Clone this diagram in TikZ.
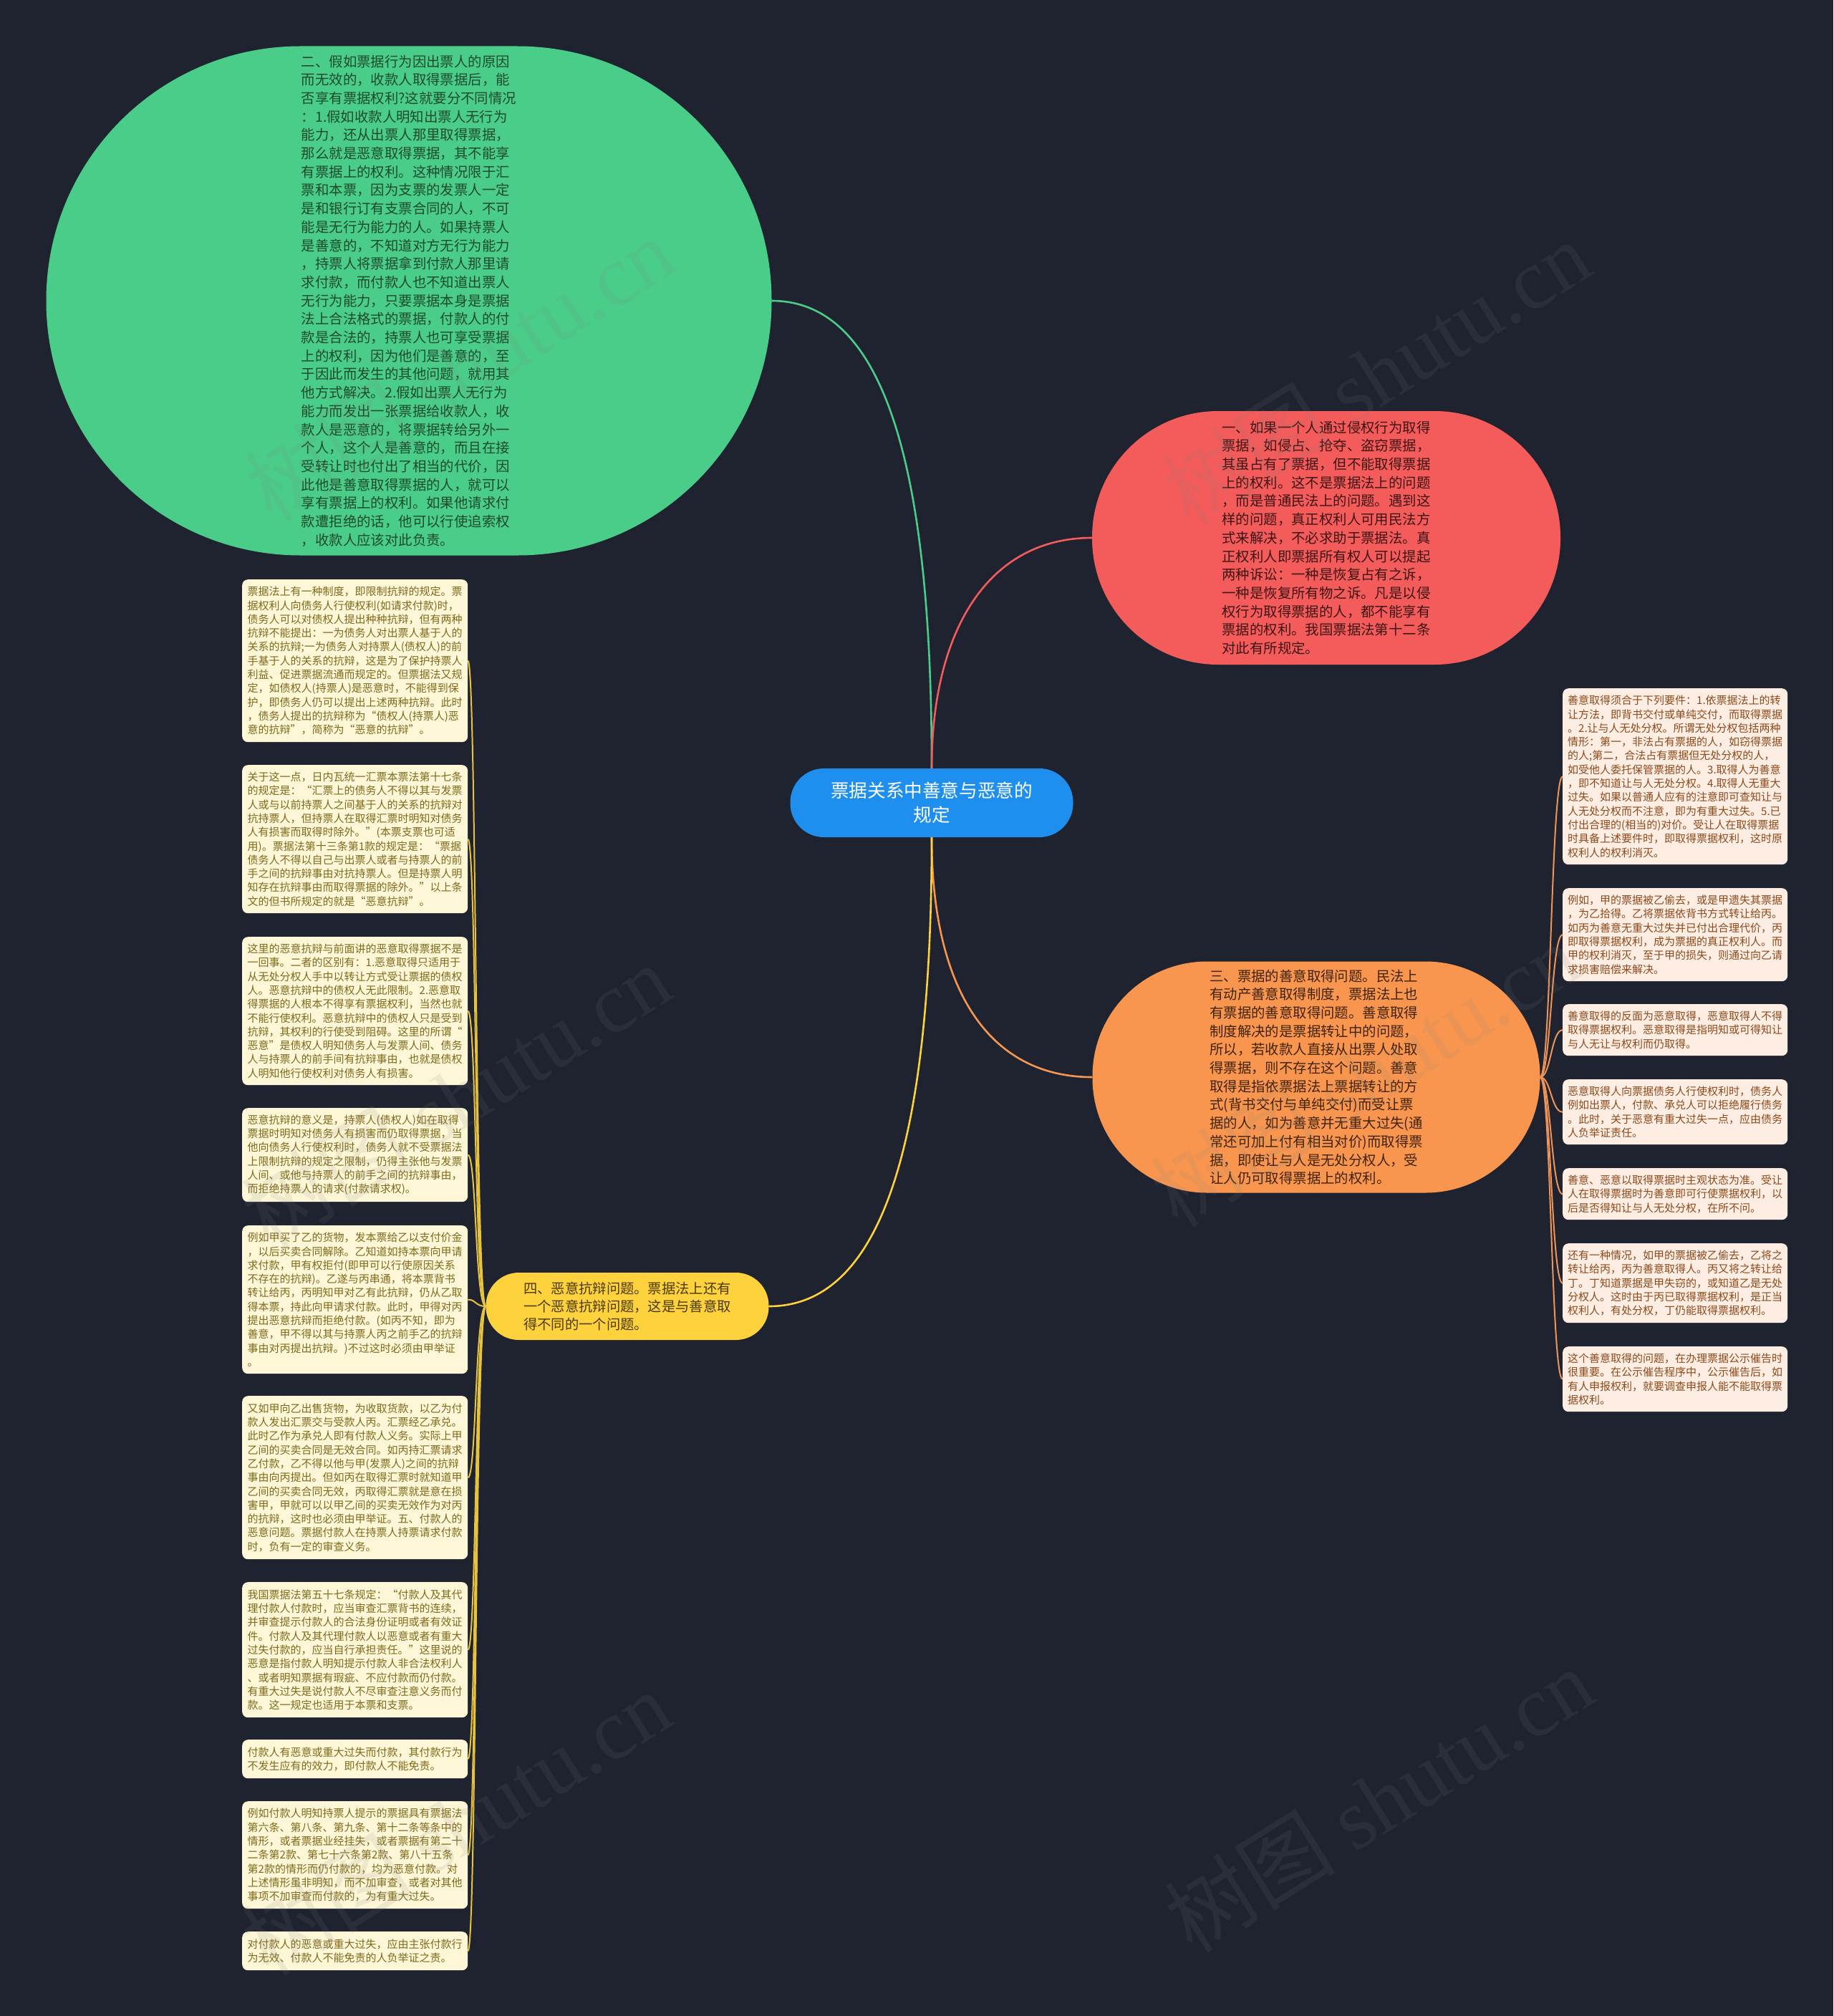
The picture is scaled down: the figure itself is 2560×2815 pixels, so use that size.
\documentclass[tikz,border=0pt]{standalone}
\usepackage{fontspec}
\setmainfont{Noto Sans CJK SC}
\newfontfamily\wmlatin{Liberation Serif}
\definecolor{bg}{HTML}{1F2330}
\definecolor{greenfill}{HTML}{4ACD89}
\definecolor{greentext}{HTML}{1D4A2C}
\definecolor{redfill}{HTML}{F45B5B}
\definecolor{redtext}{HTML}{3D1414}
\definecolor{orangefill}{HTML}{F8964F}
\definecolor{orangetext}{HTML}{402208}
\definecolor{bluefill}{HTML}{1E8FEE}
\definecolor{yellowfill}{HTML}{FDD23C}
\definecolor{yellowtext}{HTML}{4A3A0C}
\definecolor{notey}{HTML}{FDF6D7}
\definecolor{noteytext}{HTML}{7E6A1C}
\definecolor{notep}{HTML}{FDEDE2}
\definecolor{noteptext}{HTML}{8C4A1C}
\definecolor{liney}{HTML}{E6C23E}
\definecolor{lineo}{HTML}{EE9458}
\tikzset{
  blob/.style={inner sep=0pt, align=left, font=\fontsize{19.4pt}{25.7pt}\selectfont},
  notel/.style={fill=notey, text=noteytext, rounded corners=8pt, inner xsep=7pt, inner ysep=0pt,
    anchor=north west, minimum width=315pt, align=left, font=\fontsize{15pt}{19.3pt}\selectfont},
  noter/.style={fill=notep, text=noteptext, rounded corners=8pt, inner xsep=7pt, inner ysep=0pt,
    anchor=north west, minimum width=313pt, align=left, font=\fontsize{15pt}{19.3pt}\selectfont},
  mainline/.style={line width=2.6pt},
  twigy/.style={draw=liney, line width=2pt},
  twigo/.style={draw=lineo, line width=2pt},
  wm/.style={text=gray, opacity=0.12, rotate=32, inner sep=0pt}
}
\begin{document}
\begin{tikzpicture}[x=1pt, y=-1pt]
\useasboundingbox (0,0) rectangle (2560,2815);
\fill[bg] (0,0) rectangle (2560,2815);

% main nodes
\node[blob, fill=greenfill, text=greentext, minimum width=1013pt, minimum height=711pt, rounded corners=355pt] (green) at (571,420) {二、假如票据行为因出票人的原因\\而无效的，收款人取得票据后，能\\否享有票据权利?这就要分不同情况\\：1.假如收款人明知出票人无行为\\能力，还从出票人那里取得票据，\\那么就是恶意取得票据，其不能享\\有票据上的权利。这种情况限于汇\\票和本票，因为支票的发票人一定\\是和银行订有支票合同的人，不可\\能是无行为能力的人。如果持票人\\是善意的，不知道对方无行为能力\\，持票人将票据拿到付款人那里请\\求付款，而付款人也不知道出票人\\无行为能力，只要票据本身是票据\\法上合法格式的票据，付款人的付\\款是合法的，持票人也可享受票据\\上的权利，因为他们是善意的，至\\于因此而发生的其他问题，就用其\\他方式解决。2.假如出票人无行为\\能力而发出一张票据给收款人，收\\款人是恶意的，将票据转给另外一\\个人，这个人是善意的，而且在接\\受转让时也付出了相当的代价，因\\此他是善意取得票据的人，就可以\\享有票据上的权利。如果他请求付\\款遭拒绝的话，他可以行使追索权\\，收款人应该对此负责。};

\node[blob, fill=redfill, text=redtext, minimum width=654pt, minimum height=354pt, rounded corners=176pt] (red) at (1852,751) {一、如果一个人通过侵权行为取得\\票据，如侵占、抢夺、盗窃票据，\\其虽占有了票据，但不能取得票据\\上的权利。这不是票据法上的问题\\，而是普通民法上的问题。遇到这\\样的问题，真正权利人可用民法方\\式来解决，不必求助于票据法。真\\正权利人即票据所有权人可以提起\\两种诉讼：一种是恢复占有之诉，\\一种是恢复所有物之诉。凡是以侵\\权行为取得票据的人，都不能享有\\票据的权利。我国票据法第十二条\\对此有所规定。};

\node[blob, fill=orangefill, text=orangetext, minimum width=625pt, minimum height=323pt, rounded corners=160pt] (orange) at (1838,1504) {三、票据的善意取得问题。民法上\\有动产善意取得制度，票据法上也\\有票据的善意取得问题。善意取得\\制度解决的是票据转让中的问题，\\所以，若收款人直接从出票人处取\\得票据，则不存在这个问题。善意\\取得是指依票据法上票据转让的方\\式(背书交付与单纯交付)而受让票\\据的人，如为善意并无重大过失(通\\常还可加上付有相当对价)而取得票\\据，即使让与人是无处分权人，受\\让人仍可取得票据上的权利。};

\node[fill=bluefill, text=white, rounded corners=47pt, minimum width=395pt, minimum height=96pt, inner sep=0pt, align=center, font=\fontsize{25.6pt}{34pt}\selectfont] (center) at (1301,1121) {票据关系中善意与恶意的\\规定};

\node[fill=yellowfill, text=yellowtext, rounded corners=46pt, minimum width=395pt, minimum height=94pt, inner sep=0pt, align=left, font=\fontsize{19.3pt}{25pt}\selectfont] (yellow) at (876,1824) {四、恶意抗辩问题。票据法上还有\\一个恶意抗辩问题，这是与善意取\\得不同的一个问题。};

% main connectors
\draw[mainline, draw=greenfill] (center.north) .. controls (1301,700) and (1250,420) .. (green.east);
\draw[mainline, draw=redfill] (center.north) .. controls (1301,880) and (1380,751) .. (red.west);
\draw[mainline, draw=orangefill] (center.south) .. controls (1301,1380) and (1380,1504) .. (orange.west);
\draw[mainline, draw=yellowfill] (center.south) .. controls (1301,1600) and (1230,1824) .. (yellow.east);

% left notes
\node[notel, minimum height=227pt] (n1) at (338,809) {票据法上有一种制度，即限制抗辩的规定。票\\据权利人向债务人行使权利(如请求付款)时，\\债务人可以对债权人提出种种抗辩，但有两种\\抗辩不能提出：一为债务人对出票人基于人的\\关系的抗辩;一为债务人对持票人(债权人)的前\\手基于人的关系的抗辩，这是为了保护持票人\\利益、促进票据流通而规定的。但票据法又规\\定，如债权人(持票人)是恶意时，不能得到保\\护，即债务人仍可以提出上述两种抗辩。此时\\，债务人提出的抗辩称为“债权人(持票人)恶\\意的抗辩”，简称为“恶意的抗辩”。};
\node[notel, minimum height=207pt] (n2) at (338,1068) {关于这一点，日内瓦统一汇票本票法第十七条\\的规定是：“汇票上的债务人不得以其与发票\\人或与以前持票人之间基于人的关系的抗辩对\\抗持票人，但持票人在取得汇票时明知对债务\\人有损害而取得时除外。”(本票支票也可适\\用)。票据法第十三条第1款的规定是：“票据\\债务人不得以自己与出票人或者与持票人的前\\手之间的抗辩事由对抗持票人。但是持票人明\\知存在抗辩事由而取得票据的除外。”以上条\\文的但书所规定的就是“恶意抗辩”。};
\node[notel, minimum height=207pt] (n3) at (338,1308) {这里的恶意抗辩与前面讲的恶意取得票据不是\\一回事。二者的区别有：1.恶意取得只适用于\\从无处分权人手中以转让方式受让票据的债权\\人。恶意抗辩中的债权人无此限制。2.恶意取\\得票据的人根本不得享有票据权利，当然也就\\不能行使权利。恶意抗辩中的债权人只是受到\\抗辩，其权利的行使受到阻碍。这里的所谓“\\恶意”是债权人明知债务人与发票人间、债务\\人与持票人的前手间有抗辩事由，也就是债权\\人明知他行使权利对债务人有损害。};
\node[notel, minimum height=131pt] (n4) at (338,1547) {恶意抗辩的意义是，持票人(债权人)如在取得\\票据时明知对债务人有损害而仍取得票据，当\\他向债务人行使权利时，债务人就不受票据法\\上限制抗辩的规定之限制，仍得主张他与发票\\人间、或他与持票人的前手之间的抗辩事由，\\而拒绝持票人的请求(付款请求权)。};
\node[notel, minimum height=207pt] (n5) at (338,1711) {例如甲买了乙的货物，发本票给乙以支付价金\\，以后买卖合同解除。乙知道如持本票向甲请\\求付款，甲有权拒付(即甲可以行使原因关系\\不存在的抗辩)。乙遂与丙串通，将本票背书\\转让给丙，丙明知甲对乙有此抗辩，仍从乙取\\得本票，持此向甲请求付款。此时，甲得对丙\\提出恶意抗辩而拒绝付款。(如丙不知，即为\\善意，甲不得以其与持票人丙之前手乙的抗辩\\事由对丙提出抗辩。)不过这时必须由甲举证\\。};
\node[notel, minimum height=228pt] (n6) at (338,1949) {又如甲向乙出售货物，为收取货款，以乙为付\\款人发出汇票交与受款人丙。汇票经乙承兑。\\此时乙作为承兑人即有付款人义务。实际上甲\\乙间的买卖合同是无效合同。如丙持汇票请求\\乙付款，乙不得以他与甲(发票人)之间的抗辩\\事由向丙提出。但如丙在取得汇票时就知道甲\\乙间的买卖合同无效，丙取得汇票就是意在损\\害甲，甲就可以以甲乙间的买卖无效作为对丙\\的抗辩，这时也必须由甲举证。五、付款人的\\恶意问题。票据付款人在持票人持票请求付款\\时，负有一定的审查义务。};
\node[notel, minimum height=189pt] (n7) at (338,2209) {我国票据法第五十七条规定：“付款人及其代\\理付款人付款时，应当审查汇票背书的连续，\\并审查提示付款人的合法身份证明或者有效证\\件。付款人及其代理付款人以恶意或者有重大\\过失付款的，应当自行承担责任。”这里说的\\恶意是指付款人明知提示付款人非合法权利人\\、或者明知票据有瑕疵、不应付款而仍付款。\\有重大过失是说付款人不尽审查注意义务而付\\款。这一规定也适用于本票和支票。};
\node[notel, minimum height=54pt] (n8) at (338,2429) {付款人有恶意或重大过失而付款，其付款行为\\不发生应有的效力，即付款人不能免责。};
\node[notel, minimum height=150pt] (n9) at (338,2515) {例如付款人明知持票人提示的票据具有票据法\\第六条、第八条、第九条、第十二条等条中的\\情形，或者票据业经挂失，或者票据有第二十\\二条第2款、第七十六条第2款、第八十五条\\第2款的情形而仍付款的，均为恶意付款。对\\上述情形虽非明知，而不加审查，或者对其他\\事项不加审查而付款的，为有重大过失。};
\node[notel, minimum height=54pt] (n10) at (338,2697) {对付款人的恶意或重大过失，应由主张付款行\\为无效、付款人不能免责的人负举证之责。};

\foreach \n in {n1,n2,n3,n4,n5,n6,n7,n8,n9,n10}
  \draw[twigy] (yellow.west) .. controls +(-15,0) and +(12,0) .. (\n.east);

% right notes
\node[noter, minimum height=246pt] (r1) at (2182,961) {善意取得须合于下列要件：1.依票据法上的转\\让方法，即背书交付或单纯交付，而取得票据\\。2.让与人无处分权。所谓无处分权包括两种\\情形：第一，非法占有票据的人，如窃得票据\\的人;第二，合法占有票据但无处分权的人，\\如受他人委托保管票据的人。3.取得人为善意\\，即不知道让与人无处分权。4.取得人无重大\\过失。如果以普通人应有的注意即可查知让与\\人无处分权而不注意，即为有重大过失。5.已\\付出合理的(相当的)对价。受让人在取得票据\\时具备上述要件时，即取得票据权利，这时原\\权利人的权利消灭。};
\node[noter, minimum height=130pt] (r2) at (2182,1240) {例如，甲的票据被乙偷去，或是甲遗失其票据\\，为乙拾得。乙将票据依背书方式转让给丙。\\如丙为善意无重大过失并已付出合理代价，丙\\即取得票据权利，成为票据的真正权利人。而\\甲的权利消灭，至于甲的损失，则通过向乙请\\求损害赔偿来解决。};
\node[noter, minimum height=72pt] (r3) at (2182,1402) {善意取得的反面为恶意取得，恶意取得人不得\\取得票据权利。恶意取得是指明知或可得知让\\与人无让与权利而仍取得。};
\node[noter, minimum height=91pt] (r4) at (2182,1507) {恶意取得人向票据债务人行使权利时，债务人\\例如出票人，付款、承兑人可以拒绝履行债务\\。此时，关于恶意有重大过失一点，应由债务\\人负举证责任。};
\node[noter, minimum height=72pt] (r5) at (2182,1631) {善意、恶意以取得票据时主观状态为准。受让\\人在取得票据时为善意即可行使票据权利，以\\后是否得知让与人无处分权，在所不问。};
\node[noter, minimum height=111pt] (r6) at (2182,1736) {还有一种情况，如甲的票据被乙偷去，乙将之\\转让给丙，丙为善意取得人。丙又将之转让给\\丁。丁知道票据是甲失窃的，或知道乙是无处\\分权人。这时由于丙已取得票据权利，是正当\\权利人，有处分权，丁仍能取得票据权利。};
\node[noter, minimum height=91pt] (r7) at (2182,1880) {这个善意取得的问题，在办理票据公示催告时\\很重要。在公示催告程序中，公示催告后，如\\有人申报权利，就要调查申报人能不能取得票\\据权利。};

\foreach \n in {r1,r2,r3,r4,r5,r6,r7}
  \draw[twigo] (orange.east) .. controls +(15,0) and +(-16,0) .. (\n.west);

% watermarks
\foreach \wx/\wy [count=\i] in {641/515, 1921/520, 637/1530, 1905/1500, 637/2545, 1925/2513}
  \node[wm] (wm\i) at (\wx,\wy) {\fontsize{120pt}{120pt}\selectfont 树图 {\wmlatin shutu.cn}};
\end{tikzpicture}
\end{document}
